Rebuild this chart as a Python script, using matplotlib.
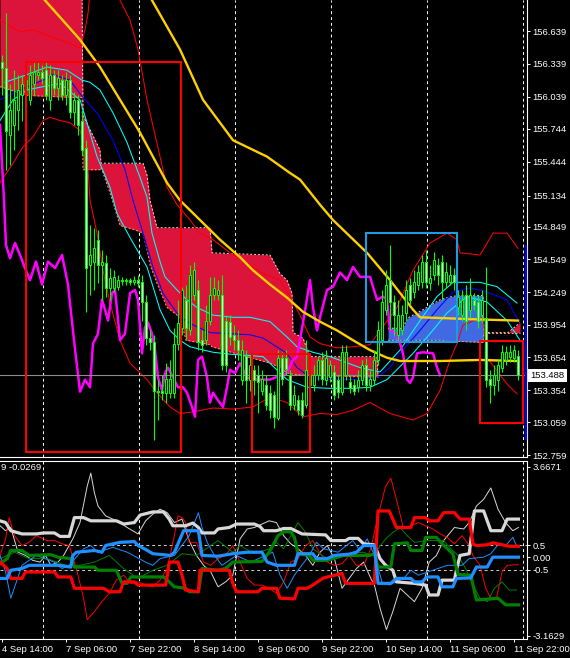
import numpy as np
import matplotlib.pyplot as plt
from matplotlib.patches import Rectangle
from matplotlib.transforms import blended_transform_factory

plt.rcParams['font.family'] = ['Liberation Sans', 'DejaVu Sans']

# H1 candles, bar 0 = 4 Sep 14:00
bar_open = [156.36, 156.30, 155.69, 155.78, 155.92, 156.05, 156.10, 156.01, 156.15, 156.24,
            156.26, 156.28, 156.01, 156.24, 156.12, 156.19, 156.05, 156.19, 155.90, 156.01,
            155.82, 155.57, 154.50, 154.53, 154.73, 154.50, 154.52, 154.29, 154.29, 154.30,
            154.36, 154.35, 154.36, 154.34, 154.36, 154.34, 154.16, 153.83, 153.79, 153.35,
            153.35, 153.33, 153.33, 153.33, 153.78, 153.92, 154.18, 153.90, 154.22, 154.27,
            153.81, 153.81, 153.99, 154.22, 154.22, 154.22, 153.99, 153.98, 153.86, 153.81,
            153.45, 153.67, 153.45, 153.54, 153.49, 153.35, 153.40, 153.33, 153.31, 153.10,
            153.65, 153.65, 153.49, 153.22, 153.26, 153.26, 153.22, 153.40, 153.40, 153.49,
            153.63, 153.45, 153.47, 153.52, 153.45, 153.34, 153.49, 153.43, 153.40, 153.38,
            153.45, 153.58, 153.40, 153.45, 153.63, 153.81, 154.09, 154.36, 154.16, 153.86,
            153.90, 154.06, 154.32, 154.25, 154.32, 154.34, 154.53, 154.33, 154.41, 154.50,
            154.53, 154.34, 154.34, 154.41, 154.11, 154.04, 154.22, 154.09, 154.18, 154.16,
            154.04, 154.01, 153.46, 153.40, 153.45, 153.56, 153.63, 153.66, 153.65, 153.67]
bar_close = [156.30, 155.72, 155.92, 156.01, 156.10, 156.15, 156.19, 156.24, 156.26, 156.26,
             156.21, 156.05, 156.24, 156.12, 156.21, 156.05, 156.19, 155.90, 156.01, 155.78,
             155.55, 154.47, 154.59, 154.65, 154.50, 154.53, 154.29, 154.38, 154.39, 154.36,
             154.35, 154.36, 154.34, 154.36, 154.33, 154.16, 153.83, 153.79, 153.35, 153.34,
             153.33, 153.46, 153.46, 153.78, 153.97, 154.27, 153.92, 154.41, 154.45, 153.79,
             153.77, 153.99, 154.22, 154.29, 154.27, 153.58, 153.58, 153.84, 153.81, 153.72,
             153.72, 153.45, 153.58, 153.45, 153.43, 153.46, 153.22, 153.17, 153.11, 153.65,
             153.46, 153.55, 153.22, 153.31, 153.17, 153.13, 153.54, 153.49, 153.49, 153.63,
             153.46, 153.65, 153.58, 153.31, 153.34, 153.70, 153.70, 153.37, 153.35, 153.45,
             153.58, 153.40, 153.46, 153.63, 153.90, 154.16, 154.32, 154.16, 154.04, 154.04,
             154.04, 154.27, 154.18, 154.34, 154.43, 154.53, 154.34, 154.38, 154.54, 154.41,
             154.34, 154.43, 154.41, 154.34, 154.21, 154.18, 153.99, 154.22, 154.13, 153.99,
             154.18, 153.45, 153.40, 153.49, 153.58, 153.70, 153.70, 153.70, 153.72, 153.49]
bar_high = [156.42, 156.80, 156.15, 156.28, 156.24, 156.24, 156.28, 156.33, 156.36, 156.36,
            156.33, 156.36, 156.33, 156.28, 156.28, 156.24, 156.26, 156.24, 156.08, 156.05,
            155.92, 155.64, 154.86, 154.84, 154.82, 154.64, 154.59, 154.47, 154.45, 154.41,
            154.39, 154.38, 154.38, 154.40, 154.41, 154.41, 154.22, 153.90, 153.86, 153.45,
            153.49, 153.60, 153.63, 153.92, 154.18, 154.30, 154.32, 154.50, 154.53, 154.36,
            153.90, 154.13, 154.39, 154.39, 154.36, 154.41, 154.04, 154.04, 153.95, 153.90,
            153.81, 153.72, 153.67, 153.58, 153.58, 153.54, 153.49, 153.40, 153.35, 153.72,
            153.70, 153.72, 153.54, 153.40, 153.31, 153.34, 153.81, 153.55, 153.58, 153.67,
            153.70, 153.72, 153.63, 153.58, 153.49, 153.77, 153.77, 153.49, 153.46, 153.54,
            153.63, 153.65, 153.54, 153.72, 153.99, 154.27, 154.45, 154.68, 154.22, 154.18,
            154.13, 154.36, 154.38, 154.45, 154.50, 154.59, 154.64, 154.50, 154.62, 154.56,
            154.59, 154.53, 154.50, 154.47, 154.27, 154.27, 154.32, 154.38, 154.24, 154.22,
            154.27, 154.48, 153.54, 153.58, 153.63, 153.77, 153.76, 153.77, 153.77, 153.72]
bar_low = [156.05, 155.37, 155.41, 155.55, 155.73, 155.82, 155.96, 155.96, 156.05, 156.19,
           156.15, 156.01, 155.92, 156.05, 156.01, 156.01, 155.96, 155.84, 155.78, 155.69,
           155.50, 154.07, 154.22, 154.27, 154.33, 154.18, 154.21, 154.18, 154.25, 154.27,
           154.32, 154.32, 154.32, 154.32, 154.30, 153.99, 153.77, 153.72, 152.90, 153.08,
           153.26, 153.24, 153.28, 153.28, 153.72, 153.86, 153.81, 153.86, 154.18, 153.72,
           153.70, 153.77, 153.95, 154.18, 154.18, 153.54, 153.52, 153.77, 153.72, 153.63,
           153.40, 153.24, 153.35, 153.31, 153.14, 153.31, 153.17, 153.10, 153.01, 153.08,
           153.40, 153.49, 153.17, 153.17, 153.13, 153.10, 153.19, 153.35, 153.35, 153.45,
           153.40, 153.40, 153.43, 153.26, 153.28, 153.31, 153.45, 153.33, 153.31, 153.34,
           153.40, 153.35, 153.35, 153.40, 153.58, 153.77, 154.04, 153.90, 153.86, 153.81,
           153.86, 153.99, 154.13, 154.20, 154.27, 154.29, 154.29, 154.27, 154.36, 154.32,
           154.18, 154.29, 154.32, 154.27, 154.04, 153.99, 153.90, 154.01, 154.09, 153.92,
           153.98, 153.38, 153.24, 153.31, 153.35, 153.52, 153.58, 153.61, 153.61, 153.45]

# moving averages (bar index, price)
yellow_slow_i = [35, 37.5, 44.5, 50.25, 57.75, 66.25, 72, 74.5, 79.5, 82.75, 91.25, 97, 102.75, 104.5, 112, 119.5, 129]
yellow_slow_p = [157.08, 156.92, 156.47, 156.01, 155.64, 155.49, 155.34, 155.28, 155.05, 154.91, 154.61, 154.36, 154.09, 154.02, 154.01, 154.00, 153.99]
yellow_fast_i = [7, 10.75, 19.5, 24.5, 29.5, 34.5, 41.25, 44.5, 49.5, 54.5, 59.5, 62.75, 67, 71.25, 75.25, 79.5, 83.75, 87.75, 92, 96.25, 99.5, 109.5, 119.5, 129]
yellow_fast_p = [157.07, 156.92, 156.56, 156.31, 156.01, 155.71, 155.25, 155.09, 154.91, 154.73, 154.57, 154.45, 154.32, 154.20, 154.07, 153.98, 153.90, 153.81, 153.72, 153.65, 153.62, 153.62, 153.63, 153.62]
cyan_a_i = [0.75, 6.25, 11.25, 16.25, 20, 22, 24.5, 27.75, 31.25, 34.5, 36.25, 37.5, 39.5, 40.75, 43.75, 46.25, 48.75, 52.75, 57.75, 62, 67, 71.25, 73.75, 77.75, 82, 89.5, 94.5, 99.5, 104.5, 108.75, 112.75, 119.5, 123.75, 128.75]
cyan_a_p = [156.17, 156.24, 156.31, 156.28, 156.19, 156.17, 156.10, 155.89, 155.62, 155.30, 155.12, 154.79, 154.53, 154.39, 154.27, 154.18, 154.11, 154.04, 154.02, 154.02, 153.98, 153.84, 153.75, 153.70, 153.66, 153.56, 153.52, 153.72, 153.99, 154.21, 154.34, 154.34, 154.30, 154.15]
cyan_b_i = [-0.5, 2.75, 6.25, 10.25, 14.5, 19.5, 21.25, 23.75, 27, 28.75, 32, 36.25, 39.5, 42, 44.5, 47, 52.75, 57.75, 62, 65.25, 71.25, 76.25, 82, 87.75, 92, 96.25, 102.75, 107, 111.25, 116.25, 121.25, 126.25, 129.5]
cyan_b_p = [155.82, 156.01, 156.10, 156.13, 156.16, 156.01, 155.80, 155.49, 155.21, 154.97, 154.75, 154.48, 154.09, 153.90, 153.81, 153.75, 153.70, 153.68, 153.67, 153.66, 153.45, 153.38, 153.37, 153.37, 153.38, 153.45, 153.69, 153.87, 154.06, 154.21, 154.16, 153.99, 153.81]
blue_i = [-0.5, 4.5, 10.25, 12.75, 17, 20.25, 23.75, 27.75, 30.75, 32.75, 35.25, 37.75, 40.25, 44.5, 47.75, 52, 57, 62, 65.25, 71.25, 73.75, 77, 82, 87.75, 93.75, 97, 99.5, 104.5, 108.75, 112.75, 117, 121.25, 126.25, 129]
blue_p = [156.01, 156.10, 156.19, 156.24, 156.19, 156.03, 155.89, 155.64, 155.37, 155.09, 154.79, 154.48, 154.24, 154.02, 153.95, 153.88, 153.87, 153.86, 153.83, 153.69, 153.56, 153.47, 153.45, 153.45, 153.47, 153.56, 153.69, 153.90, 154.09, 154.25, 154.29, 154.25, 154.18, 153.99]

# bands
red_up_i = [-0.5, 4.5, 7.75, 12.75, 17, 19.5, 20.75, 21.5, 22.5, 28.25, 29.5, 32, 34, 36.25, 38.75, 41.25, 43.75, 47, 49.5, 52.75, 57, 60.25, 65.25, 69.5, 72, 74.5, 77, 79.5, 83.75, 87.75, 92, 94.5, 98.75, 102.75, 107, 111.25, 113.75, 114.5, 119.5, 122.75, 126.25, 129]
red_up_p = [156.74, 156.63, 156.65, 156.58, 156.53, 156.48, 156.65, 156.80, 157.20, 157.20, 156.92, 156.74, 156.47, 156.01, 155.61, 155.21, 155.05, 154.91, 154.79, 154.73, 154.61, 154.54, 154.42, 154.36, 154.21, 154.04, 153.84, 153.78, 153.74, 153.75, 153.77, 153.90, 154.11, 154.45, 154.70, 154.79, 154.73, 154.61, 154.59, 154.79, 154.79, 154.65]
red_lo_i = [-0.5, 2.75, 5.25, 7.75, 10.25, 12, 14.5, 17, 19.5, 21.25, 22, 23.75, 25.25, 27, 29.5, 32, 36.25, 38.75, 42, 44.5, 47, 52.75, 57.75, 62.75, 67, 71.25, 75.25, 79.5, 83.75, 87.75, 92, 97, 102.75, 106.25, 109.5, 112, 113.75, 115.25, 118.75, 120.25, 121.25, 123.75, 126.25, 128.75]
red_lo_p = [155.25, 155.43, 155.58, 155.67, 155.82, 155.85, 155.82, 155.80, 155.73, 155.52, 155.09, 154.79, 154.45, 154.15, 153.81, 153.60, 153.45, 153.33, 153.20, 153.14, 153.15, 153.19, 153.18, 153.20, 153.29, 153.24, 153.11, 153.14, 153.13, 153.17, 153.24, 153.14, 153.08, 153.14, 153.35, 153.63, 153.78, 153.95, 154.00, 154.02, 153.65, 153.53, 153.41, 153.32]

# lagging span
mag_i = [-0.5, 0.5, 1, 2, 3.25, 4.5, 5.75, 7, 8.5, 10, 11.5, 13.25, 15, 16.5, 18, 19.5, 20.75, 22, 22.75, 24,
         25, 25.75, 26.5, 27.5, 28.25, 28.75, 29.5, 30.75, 32, 33.25, 34, 35, 35.75, 36.5, 37.5, 38.25, 39, 40, 40.75, 41.5,
         42.75, 44, 45.25, 46.25, 47.5, 48.25, 49, 50, 51.25, 52, 52.75, 54, 55.25, 56.25, 57, 58.25, 59.5, 61.25, 62.75, 67,
         71.25, 72.75, 73.75, 75.25, 77, 77.75, 78.75, 79.5, 81.25, 82.75, 84.5, 86.25, 87.75, 89.5, 92, 93.75, 95.25, 96.25, 97, 98.75,
         100.25, 101.25, 102, 102.75, 103.75, 105.25, 107.75, 108.75, 109.5]
mag_p = [155.78, 155.09, 154.68, 154.56, 154.70, 154.59, 154.47, 154.36, 154.53, 154.32, 154.53, 154.47, 154.59, 154.32, 153.81, 153.34, 153.45, 153.38, 153.78, 153.87,
         154.18, 154.09, 153.99, 154.24, 154.27, 154.09, 153.81, 153.87, 154.24, 154.27, 154.18, 153.69, 153.93, 153.97, 153.87, 153.72, 153.47, 153.35, 153.51, 153.56,
         153.47, 153.38, 153.38, 153.33, 153.20, 153.11, 153.63, 153.66, 153.47, 153.24, 153.33, 153.26, 153.20, 153.38, 153.54, 153.51, 153.60, 153.47, 153.45, 153.45,
         153.51, 153.63, 153.66, 153.97, 154.36, 154.11, 153.90, 154.02, 154.27, 154.30, 154.43, 154.36, 154.48, 154.39, 154.39, 154.18, 154.21, 154.18, 153.90, 153.87,
         153.69, 153.45, 153.42, 153.47, 153.69, 153.70, 153.69, 153.56, 153.49]

# cloud
kumo_i = [-0.5, 6.25, 18.25, 20, 20.25, 24.5, 24.75, 27, 29.5, 33.25, 35.25, 36.25, 37, 38.75, 41.25, 44.5, 46, 52, 52.5, 67, 69.5, 71.25, 72.5, 72.75, 75.25, 77, 93.75, 94]
kumo_top = [157.0, 157.0, 157.0, 157.0, 155.87, 155.55, 155.43, 155.43, 155.43, 155.43, 155.43, 155.32, 155.09, 154.84, 154.84, 154.84, 154.84, 154.84, 154.61, 154.59, 154.42, 154.36, 154.24, 153.88, 153.83, 153.66, 153.66, 153.47]
kumo_bot = [156.13, 156.05, 156.03, 156.03, 155.37, 155.37, 155.39, 155.16, 154.86, 154.82, 154.79, 154.64, 154.50, 154.33, 154.11, 154.02, 153.81, 153.77, 153.75, 153.60, 153.56, 153.51, 153.50, 153.50, 153.49, 153.49, 153.47, 153.47]
bkumo_i = [96.5, 100.25, 101.25, 103.75, 106.25, 109.5, 111.25, 114, 120.25, 120.5]
bkumo_top = [153.92, 153.92, 154.01, 154.06, 154.11, 154.18, 154.20, 154.22, 154.22, 153.88]
bkumo_bot = [153.81, 153.81, 153.81, 153.81, 153.81, 153.81, 153.80, 153.80, 153.79, 153.88]
tail_i = [120.5, 126.5, 129.5]
tail_top = [153.88, 153.88, 153.97]
tail_bot = [153.88, 153.88, 153.88]

# drawn boxes: start bar, end bar, low, high
red_boxes = [(6, 44.75, 152.79, 156.36), (62.5, 77, 152.79, 153.68), (119.5, 130.25, 153.05, 153.80)]
blue_boxes = [(91, 113.75, 153.79, 154.79)]

last_price = 153.488
day_lines = [10.25, 34.25, 58.25, 82.25, 106.25, 130.25]
price_ticks = [156.639, 156.339, 156.039, 155.744, 155.444, 155.134, 154.849, 154.549, 154.249, 153.954, 153.654, 153.354, 153.059, 152.759]

# sub window lines
wk_i = [-0.5, 0.9, 2.2, 5.0, 8.6, 10.4, 13.1, 14.5, 16.8, 18.1, 20.4, 22.2, 28.6, 30.4, 33.1, 34.5, 37.7, 40.4, 41.8, 42.7, 45.9, 47.7, 49.1, 50.0, 53.1, 54.0, 56.8, 58.6, 63.1, 64.5, 65.4, 68.6, 70.4, 72.2, 75.0, 80.9, 82.2, 85.9, 86.8, 89.0, 90.4, 93.1, 94.5, 95.9, 97.7, 98.6, 103.1, 105.9, 106.8, 109.0, 110.0, 113.1, 113.6, 114.5, 116.8, 118.1, 120.4, 122.2, 125.0, 126.3, 129.1]
wk_v = [1.48, 1.41, 1.08, 0.95, 0.95, 0.99, 0.99, 0.85, 0.85, 1.61, 1.61, 1.48, 1.48, 1.35, 1.41, 1.71, 1.84, 1.84, 1.55, 1.28, 1.28, 1.39, 1.21, 0.99, 0.99, 1.15, 1.21, 1.35, 1.35, 1.25, 1.08, 1.08, 1.17, 1.17, 0.95, 0.91, 0.68, 0.68, 0.77, 0.77, 0.55, 0.51, -0.05, -0.32, -0.52, -0.99, -1.05, -1.12, -1.52, -1.52, -0.92, -0.92, -0.52, 0.08, 0.15, 1.88, 1.88, 1.08, 1.08, 1.55, 1.55]
rk_i = [-0.5, 1.3, 2.2, 5.0, 5.9, 13.1, 14.0, 17.2, 18.1, 25.4, 26.8, 29.5, 30.4, 33.1, 34.0, 40.9, 41.5, 41.8, 44.0, 45.0, 45.9, 49.1, 49.5, 56.8, 57.7, 58.6, 64.0, 65.0, 68.6, 69.5, 73.1, 74.0, 76.3, 77.7, 79.5, 80.4, 85.0, 85.9, 93.1, 94.0, 96.8, 98.6, 102.2, 103.1, 105.9, 106.8, 109.0, 110.4, 113.1, 114.5, 116.8, 117.7, 118.6, 121.3, 122.7, 126.8, 129.1]
rk_v = [-0.19, -0.45, -0.85, -0.85, -0.59, -0.59, -0.79, -0.79, -1.25, -1.25, -1.39, -1.39, -0.99, -0.99, -1.12, -1.12, -0.59, -0.19, -0.19, -0.72, -1.32, -1.39, -0.52, -0.52, -1.05, -1.39, -1.39, -1.25, -1.25, -1.65, -1.68, -1.25, -1.25, -1.12, -0.92, -0.83, -0.65, -1.05, -1.05, 1.88, 1.88, 1.21, 1.21, 1.61, 1.61, 1.48, 1.48, 1.81, 1.81, 1.55, 1.55, 0.55, 0.48, 0.51, 0.59, 0.45, 0.45]
gk_i = [-0.5, 1.3, 2.2, 5.0, 6.8, 12.2, 14.0, 17.2, 18.1, 23.1, 24.0, 28.6, 30.0, 31.3, 32.2, 40.4, 41.8, 43.1, 45.9, 46.8, 49.1, 50.0, 54.0, 55.9, 57.7, 65.0, 66.8, 69.0, 70.4, 72.2, 73.1, 74.0, 76.8, 77.7, 81.3, 85.4, 91.8, 93.1, 94.0, 97.2, 98.1, 101.3, 102.2, 105.0, 105.9, 108.6, 110.0, 112.7, 114.0, 117.2, 118.6, 122.2, 124.0, 125.9, 129.1]
gk_v = [-0.25, -0.05, 0.28, 0.28, 0.08, 0.11, 0.01, -0.05, -0.39, -0.39, -0.52, -0.52, -1.05, -1.05, -0.79, -0.79, -0.99, -1.19, -1.25, -1.39, -1.39, -0.45, -0.52, -0.45, -0.19, -0.16, 0.21, 0.88, 1.04, 1.04, 0.81, 0.15, 0.08, -0.12, -0.12, 0.08, 0.08, 0.15, -0.39, -0.39, 0.55, 0.59, 0.28, 0.28, 0.81, 0.81, 0.55, 0.15, -0.69, -0.72, -1.72, -1.68, -1.65, -1.92, -1.92]
bk_i = [-0.5, 1.3, 2.2, 5.0, 6.8, 14.0, 17.2, 17.7, 18.6, 23.1, 25.0, 25.9, 29.5, 33.1, 34.0, 35.9, 37.7, 42.2, 43.1, 45.4, 49.1, 50.0, 54.0, 57.7, 61.3, 65.0, 66.3, 68.6, 73.1, 74.0, 77.7, 78.6, 81.3, 83.1, 86.8, 88.6, 90.4, 93.1, 94.0, 97.2, 98.6, 102.2, 103.1, 105.0, 106.3, 109.0, 110.0, 112.7, 113.6, 117.2, 118.6, 121.3, 122.7, 129.1]
bk_v = [-0.85, -0.85, -0.52, -0.45, -0.32, -0.32, -0.39, 0.08, 0.21, 0.28, 0.21, 0.48, 0.61, 0.64, 0.48, 0.32, 0.15, 0.08, 0.21, 1.08, 1.08, 0.08, 0.05, 0.15, 0.21, 0.21, -0.19, -0.32, -0.32, 0.15, 0.15, -0.05, -0.05, 0.08, 0.13, 0.21, 0.48, 0.48, -1.05, -1.05, -0.85, -0.85, -0.99, -0.99, -0.79, -0.79, -1.19, -1.19, -0.85, -0.83, -0.39, -0.39, 0.01, 0.01]
wt_i = [-0.5, 0.9, 2.2, 4.0, 5.9, 7.7, 9.5, 10.9, 12.2, 14.0, 15.4, 17.7, 19.5, 21.3, 22.2, 23.1, 24.0, 25.9, 27.7, 29.5, 31.3, 34.0, 35.9, 37.7, 39.5, 41.3, 43.1, 45.0, 46.8, 48.6, 50.4, 52.2, 54.0, 55.9, 57.7, 59.5, 61.3, 63.1, 65.0, 66.8, 68.6, 70.4, 72.2, 74.0, 75.9, 77.7, 79.5, 81.3, 83.1, 85.0, 86.8, 88.6, 90.4, 92.2, 93.1, 94.5, 96.1, 97.7, 99.5, 101.3, 103.1, 105.0, 106.8, 108.6, 110.4, 113.1, 115.4, 116.8, 118.6, 120.4, 122.2, 124.0, 125.9, 127.7, 129.1]
wt_v = [1.28, 1.08, 1.21, 0.21, 0.08, -0.12, -0.19, 0.08, -0.32, -0.19, 0.08, 0.75, 1.41, 2.88, 3.41, 2.61, 2.08, 1.68, 1.55, 1.41, 1.21, 0.95, 1.48, 1.75, 1.95, 1.81, 1.41, 1.55, 0.68, 0.08, -0.32, -0.59, -1.19, -0.99, -0.72, 0.75, 1.15, 1.21, 1.35, 1.48, 1.41, 0.88, 0.55, 0.35, 0.08, -0.32, 0.21, 0.48, -0.05, -1.25, -0.85, -0.45, -0.19, -0.85, -1.12, -2.05, -2.92, -2.19, -1.25, -1.52, -1.79, -1.25, -0.19, 0.08, 0.68, 1.21, 1.15, 1.41, 2.08, 2.35, 2.81, 1.95, 1.41, 1.08, 1.21]
rt_i = [-0.5, 0.9, 1.8, 3.1, 5.0, 6.8, 8.6, 11.3, 13.1, 15.0, 16.8, 18.6, 20.4, 21.3, 23.1, 25.0, 26.8, 28.6, 30.4, 32.2, 34.0, 35.9, 37.7, 39.5, 41.3, 43.1, 44.0, 45.0, 45.9, 46.8, 48.6, 50.4, 52.2, 54.0, 55.9, 57.7, 59.5, 61.3, 63.1, 65.0, 66.8, 68.6, 70.4, 72.2, 74.0, 75.9, 77.7, 79.5, 81.3, 83.1, 85.0, 86.8, 88.6, 90.4, 92.2, 94.0, 95.9, 97.2, 98.6, 100.4, 102.2, 104.1, 105.9, 107.7, 109.5, 111.3, 113.1, 115.0, 116.8, 117.7, 119.5, 120.9, 122.2, 123.6, 125.0, 126.3, 129.1]
rt_v = [0.08, 0.75, 1.61, 0.88, 0.48, 0.61, 0.88, 0.68, 0.68, 0.55, 0.48, -0.45, -1.65, -2.52, -2.19, -1.79, -1.45, -0.92, -0.72, -1.05, -0.99, -1.12, -1.19, -0.92, -0.45, 0.88, 1.68, 1.61, 1.41, 0.61, 0.61, -0.19, -0.32, -0.05, 0.08, 0.48, -0.19, -0.85, -1.12, -1.12, -1.25, -1.45, -0.99, -0.19, -0.05, 0.48, 0.68, 0.15, -0.19, -0.32, -0.25, 0.08, -0.32, -0.32, 0.35, 1.68, 2.88, 3.21, 2.35, 1.15, 1.28, 1.41, 1.28, 1.15, 0.95, 0.81, 0.55, 0.88, 0.48, 0.08, -0.32, -1.25, -1.65, -1.65, -0.59, -0.32, -0.29]
gt_i = [-0.5, 3.1, 6.8, 11.3, 15.9, 19.5, 23.1, 26.8, 30.4, 34.0, 37.7, 41.3, 45.0, 48.6, 52.2, 54.0, 57.7, 59.5, 63.1, 66.8, 68.6, 70.4, 72.2, 74.0, 75.9, 77.7, 81.3, 85.0, 90.4, 92.2, 94.0, 95.9, 97.7, 99.5, 101.3, 103.1, 106.8, 110.4, 112.2, 114.0, 115.9, 117.7, 119.5, 121.3, 123.1, 125.0, 126.8, 128.6]
gt_v = [-0.05, 0.21, -0.05, -0.05, -0.32, -0.32, -0.19, 0.08, -0.45, -0.85, -0.52, -0.32, 0.15, 0.08, 0.48, 0.68, 0.21, 0.48, 0.15, 0.35, 0.61, 0.35, 0.88, 1.41, 1.01, 0.35, -0.05, 0.15, 0.21, 0.08, 0.35, 0.75, 1.01, 1.21, 0.88, 0.61, 0.68, 0.68, 0.35, 0.08, -0.45, -1.12, -1.65, -1.79, -1.25, -0.99, -1.32, -1.32]
bt_i = [-0.5, 0.9, 2.2, 3.6, 5.0, 8.6, 13.1, 15.0, 16.8, 20.4, 22.2, 24.0, 27.7, 31.3, 35.9, 37.7, 39.5, 43.1, 46.8, 49.1, 50.0, 51.3, 53.1, 55.0, 58.6, 62.2, 67.7, 69.5, 71.3, 73.1, 76.8, 78.6, 80.4, 84.0, 87.7, 89.5, 91.3, 93.1, 95.0, 96.8, 100.4, 102.2, 104.1, 107.7, 111.3, 115.0, 116.8, 120.4, 122.2, 124.0, 125.9, 127.7, 128.6]
bt_v = [0.08, -0.59, -1.65, -0.99, -0.32, 0.08, -0.19, -0.45, -0.32, 0.35, 0.48, 0.21, 0.41, 0.21, -0.19, -0.32, -0.05, 0.08, 0.88, 1.81, 1.21, 0.61, 0.08, -0.32, 0.08, -0.19, 0.21, -0.72, -1.25, -0.72, 0.08, 0.61, 0.35, 0.21, 0.68, 0.28, 0.75, 0.08, -0.99, -1.12, -0.85, -0.52, -0.72, -0.52, -0.32, -0.32, -0.05, 0.01, 0.15, 0.51, 0.48, 0.81, 0.48]

time_ticks = [0, 16, 32, 48, 64, 80, 96, 112, 128]
time_labels = ['4 Sep 14:00', '7 Sep 06:00', '7 Sep 22:00', '8 Sep 14:00', '9 Sep 06:00',
               '9 Sep 22:00', '10 Sep 14:00', '11 Sep 06:00', '11 Sep 22:00']
sub_ticks = [3.6671, 0.5, 0.0, -0.5, -3.1629]
sub_labels = ['3.6671', '0.5', '0.00', '-0.5', '-3.1629']

fs = 6.8
dash = (0, (3, 3))

fig = plt.figure(figsize=(5.7, 6.58), dpi=100, facecolor='black')
ax = fig.add_axes([0, 0.3055, 0.9246, 0.6945], facecolor='black')
sub = fig.add_axes([0, 0.0289, 0.9246, 0.2705], facecolor='black')

# main window
for d in day_lines:
    ax.axvline(d, color='white', lw=0.7, ls=dash, zorder=1)

ax.fill_between(kumo_i, kumo_top, kumo_bot, color='#DC143C', lw=0, zorder=2)
ax.fill_between(bkumo_i, bkumo_top, bkumo_bot, color='#4169E1', lw=0, zorder=2)
ax.fill_between(tail_i, tail_top, tail_bot, color='#DC143C', lw=0, zorder=2)
for xs, top, bot in [(kumo_i, kumo_top, kumo_bot), (bkumo_i, bkumo_top, bkumo_bot), (tail_i, tail_top, tail_bot)]:
    ax.plot(xs, top, color='#F2D8D8', lw=0.7, ls=(0, (2, 2)), zorder=2.5)
    ax.plot(xs, bot, color='#F4A460', lw=0.7, ls=(0, (2, 2)), zorder=2.5)

ax.plot(red_up_i, red_up_p, color='#FF0000', lw=0.75, zorder=3)
ax.plot(red_lo_i, red_lo_p, color='#FF0000', lw=0.75, zorder=3)
ax.plot(cyan_a_i, cyan_a_p, color='#00FFFF', lw=0.75, zorder=3)
ax.plot(cyan_b_i, cyan_b_p, color='#00FFFF', lw=0.75, zorder=3)
ax.plot(blue_i, blue_p, color='#0000FF', lw=0.75, zorder=3)
ax.plot(mag_i, mag_p, color='#FF00FF', lw=1.8, zorder=3.5)
ax.plot(yellow_slow_i, yellow_slow_p, color='#FFD000', lw=1.7, zorder=3.5)
ax.plot(yellow_fast_i, yellow_fast_p, color='#FFD000', lw=1.7, zorder=3.5)
ax.axhline(last_price, color='#8C8C8C', lw=0.8, zorder=4)

idx = np.arange(len(bar_close))
o = np.array(bar_open)
c = np.array(bar_close)
hi = np.maximum(np.array(bar_high), np.maximum(o, c))
lo = np.minimum(np.array(bar_low), np.minimum(o, c))
ax.vlines(idx, lo, hi, color='#00FF00', lw=0.8, zorder=5)
face = np.where(c < o, 'white', 'black')
ax.bar(idx, np.abs(c - o), bottom=np.minimum(o, c), width=0.62, color=face,
       edgecolor='#00FF00', linewidth=0.75, zorder=6)

for x0, x1, y0, y1 in red_boxes:
    ax.add_patch(Rectangle((x0, y0), x1 - x0, y1 - y0, fill=False, ec='#FF0000', lw=1.5, zorder=7))
for x0, x1, y0, y1 in blue_boxes:
    ax.add_patch(Rectangle((x0, y0), x1 - x0, y1 - y0, fill=False, ec='#1E9BE6', lw=1.5, zorder=7))

ax.plot([131.0, 131.0], [154.68, 152.90], color='#0000FF', lw=1.6, clip_on=False, zorder=9,
        solid_capstyle='butt')

ax.set_xlim(-0.5, 131.25)
ax.set_ylim(152.742, 156.923)
ax.set_xticks([])
ax.yaxis.tick_right()
ax.set_yticks(price_ticks)
ax.set_yticklabels(['%.3f' % p for p in price_ticks])
ax.tick_params(axis='y', colors='white', length=2.5, width=0.7, pad=1.5, labelsize=fs)
for s in ['left', 'top']:
    ax.spines[s].set_visible(False)
for s in ['right', 'bottom']:
    ax.spines[s].set_color('white')
    ax.spines[s].set_linewidth(0.8)

trans = blended_transform_factory(ax.transAxes, ax.transData)
ax.text(1.006, last_price, '%.3f' % last_price, transform=trans, ha='left', va='center',
        color='black', fontsize=fs, zorder=10, clip_on=False,
        bbox=dict(boxstyle='square,pad=0.25', fc='white', ec='none'))

# sub window
for d in day_lines:
    sub.axvline(d, color='white', lw=0.7, ls=dash, zorder=1)
for lvl in [0.5, -0.5]:
    sub.axhline(lvl, color='#D0D0D0', lw=0.7, ls=dash, zorder=1)

sub.plot(wt_i, wt_v, color='#D8D8D8', lw=0.7, zorder=2)
sub.plot(rt_i, rt_v, color='#FF0000', lw=0.7, zorder=2)
sub.plot(gt_i, gt_v, color='#008000', lw=0.7, zorder=2)
sub.plot(bt_i, bt_v, color='#1E90FF', lw=0.7, zorder=2)
sub.plot(wk_i, wk_v, color='#D8D8D8', lw=2.3, zorder=3, solid_joinstyle='round')
sub.plot(gk_i, gk_v, color='#008000', lw=2.3, zorder=3, solid_joinstyle='round')
sub.plot(rk_i, rk_v, color='#FF0000', lw=2.3, zorder=3, solid_joinstyle='round')
sub.plot(bk_i, bk_v, color='#1E90FF', lw=2.3, zorder=3, solid_joinstyle='round')

sub.set_xlim(-0.5, 131.25)
sub.set_ylim(-3.3, 3.9)
sub.yaxis.tick_right()
sub.set_yticks(sub_ticks)
sub.set_yticklabels(sub_labels)
sub.set_xticks(time_ticks)
sub.set_xticklabels(time_labels, ha='left')
sub.tick_params(axis='both', colors='white', length=2.5, width=0.7, labelsize=fs)
sub.tick_params(axis='y', pad=1.5)
sub.tick_params(axis='x', pad=2)
sub.spines['left'].set_visible(False)
for s in ['right', 'bottom', 'top']:
    sub.spines[s].set_color('white')
    sub.spines[s].set_linewidth(0.8)
sub.text(0.002, 0.965, '9 -0.0269', transform=sub.transAxes, ha='left', va='center',
         color='white', fontsize=fs)

fig.savefig('out.png', dpi=100, facecolor='black')
